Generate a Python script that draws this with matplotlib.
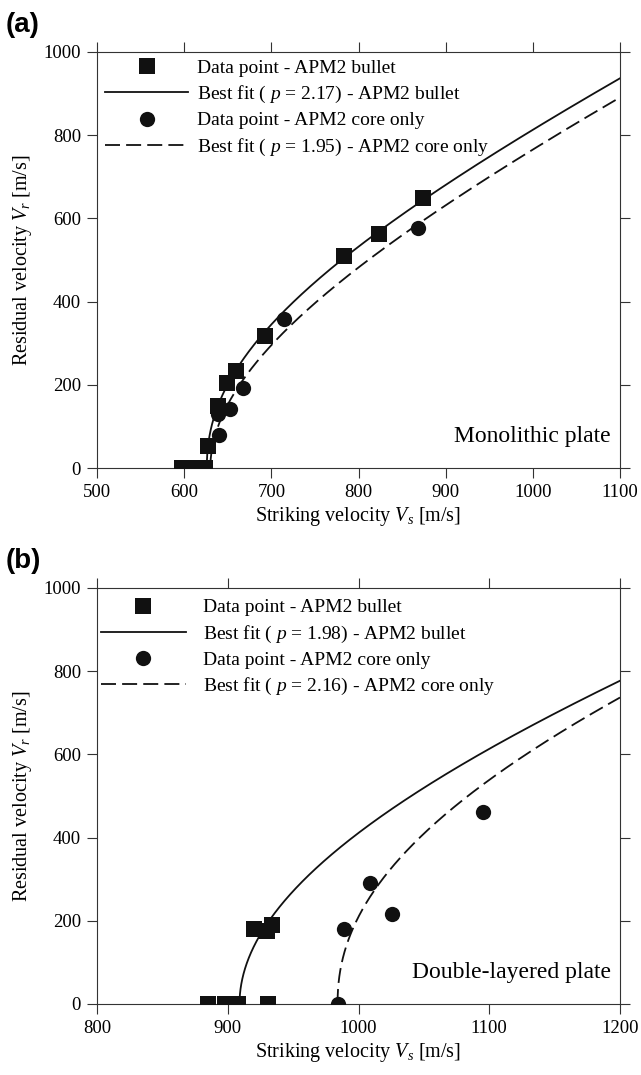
import numpy as np
import matplotlib
matplotlib.use("Agg")
import matplotlib.pyplot as plt

plt.rcParams['font.family'] = ['Liberation Serif', 'DejaVu Serif']
plt.rcParams['mathtext.fontset'] = 'custom'
plt.rcParams['mathtext.rm'] = 'Liberation Serif'
plt.rcParams['mathtext.it'] = 'Liberation Serif:italic'

# ---------------- Data: panel (a) monolithic plate ----------------
a_bullet_vs = [597, 605, 612, 618, 624, 627, 639, 649, 660, 693, 783, 824, 874]
a_bullet_vr = [0, 0, 0, 0, 0, 53, 149, 205, 233, 317, 510, 562, 648]
a_core_vs = [597, 603, 609, 615, 621, 640, 639, 653, 668, 715, 868]
a_core_vr = [0, 0, 0, 0, 0, 79, 131, 141, 192, 358, 578]
# Lambert-Jonas fit parameters (a, p, V_bl)
a_fit_bullet = (1.0, 2.17, 626.0)
a_fit_core = (1.0, 1.95, 630.0)

# ---------------- Data: panel (b) double-layered plate ----------------
b_bullet_vs = [885, 898, 903, 908, 931, 920, 930, 934]
b_bullet_vr = [0, 0, 0, 0, 0, 180, 175, 191]
b_core_vs = [984, 989, 1009, 1026, 1095]
b_core_vr = [0, 181, 290, 216, 461]
b_fit_bullet = (1.0, 1.98, 909.0)
b_fit_core = (1.0, 2.16, 984.0)

a_xticks = [500, 600, 700, 800, 900, 1000, 1100]
b_xticks = [800, 900, 1000, 1100, 1200]
yticks = [0, 200, 400, 600, 800, 1000]


def lambert_jonas(params, vmax):
    a, p, vbl = params
    vs = vbl + (vmax - vbl) * np.linspace(0, 1, 2000) ** 2
    vr = a * np.clip(vs ** p - vbl ** p, 0, None) ** (1.0 / p)
    return vs, vr


W, H = 641, 1075
fig = plt.figure(figsize=(W / 100, H / 100), dpi=100)
ax1 = fig.add_axes([97 / W, 1 - 468 / H, 523 / W, 416 / H])
ax2 = fig.add_axes([97 / W, 1 - 1004 / H, 523 / W, 416 / H])

col = '#111111'
ms = 11
dash = (8.3, 3.4)


def panel(ax, bvs, bvr, cvs, cvr, fb, fc, xlim, xticks, label_text, tag,
          hlen, hpad, lx, ly):
    ax.plot(bvs, bvr, 's', color=col, ms=ms, mew=0, zorder=4,
            label='Data point - APM2 bullet')
    x, y = lambert_jonas(fb, xlim[1])
    ax.plot(x, y, '-', color=col, lw=1.3, zorder=3,
            label=r'Best fit ( $p$ = %.2f) - APM2 bullet' % fb[1])
    ax.plot(cvs, cvr, 'o', color=col, ms=ms, mew=0, zorder=4,
            label='Data point - APM2 core only')
    x, y = lambert_jonas(fc, xlim[1])
    ax.plot(x, y, '--', color=col, lw=1.3, dashes=dash, zorder=3,
            label=r'Best fit ( $p$ = %.2f) - APM2 core only' % fc[1])
    ax.set_xlim(*xlim)
    ax.set_ylim(0, 1000)
    ax.set_xticks(xticks)
    ax.set_yticks(yticks)
    ax.tick_params(direction='out', length=7.5, width=0.8, labelsize=13.5,
                   top=True, right=True, color='#333333', pad=4)
    for s in ax.spines.values():
        s.set_linewidth(0.8)
        s.set_color('#333333')
    ax.set_xlabel(r'Striking velocity $V_s$ [m/s]', fontsize=14.5, labelpad=3)
    ax.set_ylabel(r'Residual velocity $V_r$ [m/s]', fontsize=14.5, labelpad=7)
    ax.text(0.983, 0.075, label_text, transform=ax.transAxes, ha='right',
            va='center', fontsize=17)
    ax.legend(loc='upper left', bbox_to_anchor=(lx, ly), frameon=False,
              fontsize=14, handlelength=hlen, handletextpad=hpad,
              labelspacing=0.36, borderaxespad=0.0, borderpad=0.0)
    fig.text(0.008, ax.get_position().y1 + 0.013, tag, fontsize=20,
             fontweight='bold', family='Liberation Sans', va='bottom', ha='left')


panel(ax1, a_bullet_vs, a_bullet_vr, a_core_vs, a_core_vr, a_fit_bullet,
      a_fit_core, (500, 1100), a_xticks, 'Monolithic plate', '(a)',
      4.27, 0.46, 0.016, 0.983)
panel(ax2, b_bullet_vs, b_bullet_vr, b_core_vs, b_core_vr, b_fit_bullet,
      b_fit_core, (800, 1200), b_xticks, 'Double-layered plate', '(b)',
      4.4, 0.85, 0.007, 0.974)

fig.savefig('out.png', dpi=100)
